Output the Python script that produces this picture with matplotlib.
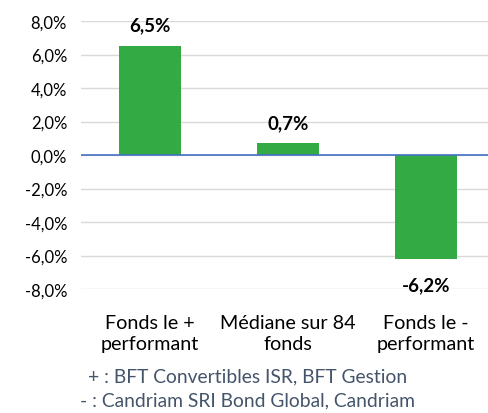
import matplotlib
matplotlib.use("Agg")
import matplotlib.pyplot as plt

categories = ["Fonds le +\nperformant", "Médiane sur 84\nfonds", "Fonds le -\nperformant"]
values = [6.5, 0.7, -6.2]
labels = ["6,5%", "0,7%", "-6,2%"]
yticks = [8, 6, 4, 2, 0, -2, -4, -6, -8]
ytick_labels = ["8,0%", "6,0%", "4,0%", "2,0%", "0,0%", "-2,0%", "-4,0%", "-6,0%", "-8,0%"]
footnotes = ["+ : BFT Convertibles ISR, BFT Gestion", "- : Candriam SRI Bond Global, Candriam"]

plt.rcParams['font.family'] = ['Lato', 'DejaVu Sans']

W, H = 488, 414
fig = plt.figure(figsize=(W/100, H/100), dpi=100)
ax = fig.add_axes([81/W, 1 - 290/H, (W - 81)/W, (290 - 22)/H])

x = list(range(len(values)))
ax.bar(x, values, width=0.45, color="#33AA44", zorder=3)
ax.set_xlim(-0.5, 2.45)
ax.set_ylim(-8, 8)
ax.set_yticks(yticks)
ax.set_yticklabels(ytick_labels, fontsize=12)
ax.set_xticks(x)
ax.set_xticklabels(categories, fontsize=14.2, linespacing=1.32)
ax.tick_params(axis='both', length=0, pad=10)
ax.tick_params(axis='x', pad=18)
ax.yaxis.grid(True, color="#D9D9D9", linewidth=1, zorder=0)
ax.axhline(0, color="#4472C4", linewidth=1.2, zorder=4)
for s in ax.spines.values():
    s.set_visible(False)

for xi, v, lab in zip(x, values, labels):
    off = 1.25 if v >= 0 else -1.55
    ax.text(xi, v + off, lab, ha='center', va='center', fontsize=13.5, fontweight='bold', color="black")

fig.text(248/W, 1 - 377/H, footnotes[0], ha='center', va='center', fontsize=13.9, color="#44546A")
fig.text(248/W, 1 - 401/H, footnotes[1], ha='center', va='center', fontsize=13.9, color="#44546A")

fig.savefig("out.png", dpi=100)
